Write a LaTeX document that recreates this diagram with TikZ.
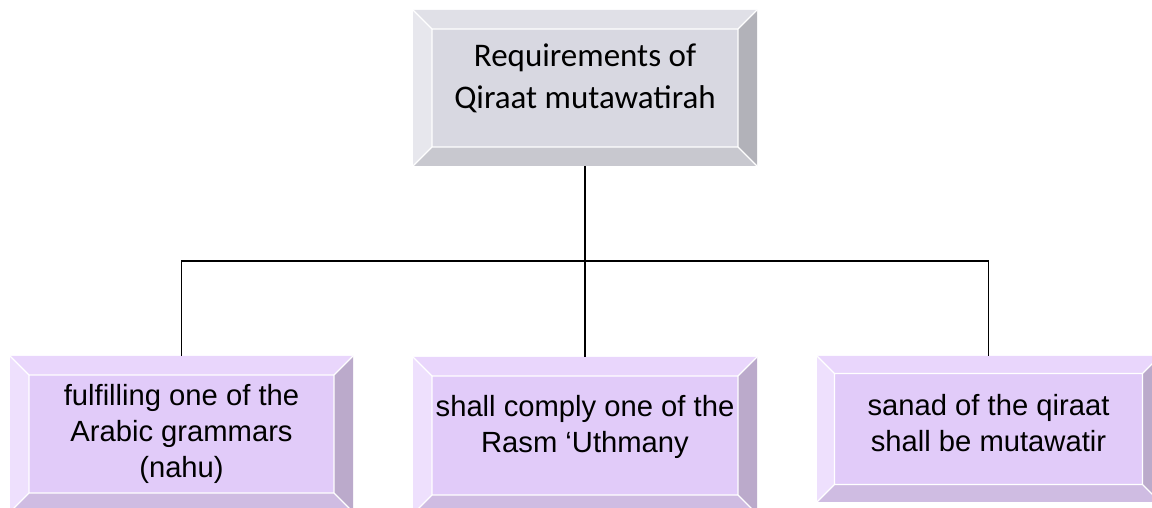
\documentclass[tikz,border=0pt]{standalone}
\usepackage{fontspec}
\setmainfont{Liberation Sans}
\newfontfamily\carlito{Carlito}
\usetikzlibrary{calc}
\definecolor{gface}{HTML}{D8D8E1}
\definecolor{gtop}{HTML}{E0E0E7}
\definecolor{gleft}{HTML}{E7E7ED}
\definecolor{gright}{HTML}{B2B2B9}
\definecolor{gbot}{HTML}{C8C8CF}
\definecolor{pface}{HTML}{E1CBF9}
\definecolor{ptop}{HTML}{E9D6FC}
\definecolor{pleft}{HTML}{EEE0FD}
\definecolor{pright}{HTML}{BBAACB}
\definecolor{pbot}{HTML}{CFBCE2}
\newcommand\drawbevel[7]{%
  \coordinate (NW) at (#1.north west);
  \coordinate (NE) at (#1.north east);
  \coordinate (SW) at (#1.south west);
  \coordinate (SE) at (#1.south east);
  \coordinate (nw) at ($(NW)+(#2,-#2)$);
  \coordinate (ne) at ($(NE)+(-#2,-#2)$);
  \coordinate (sw) at ($(SW)+(#2,#2)$);
  \coordinate (se) at ($(SE)+(-#2,#2)$);
  \fill[#4] (NW)--(NE)--(ne)--(nw)--cycle;
  \fill[#5] (NW)--(nw)--(sw)--(SW)--cycle;
  \fill[#6] (NE)--(SE)--(se)--(ne)--cycle;
  \fill[#7] (SW)--(sw)--(se)--(SE)--cycle;
  \fill[#3] (nw) rectangle (se);
  \draw[white, line width=1.2pt] (NW)--(nw) (NE)--(ne) (SW)--(sw) (SE)--(se) (nw) rectangle (se);
}
\tikzset{
  boxshape/.style={inner sep=0pt, outer sep=0pt},
  toptext/.style={font=\carlito\fontsize{33}{42}\selectfont, align=center, inner sep=0pt},
  lowtext/.style={font=\fontsize{29.2}{36}\selectfont, align=center, inner sep=0pt},
  conn/.style={draw=black, line width=1.5pt},
}
\begin{document}
\begin{tikzpicture}[x=1pt,y=1pt]
\useasboundingbox (0,0) rectangle (1152,508);
\clip (0,0) rectangle (1152,508);
\node[boxshape, minimum width=344pt, minimum height=156pt] (top) at (585,420) {};
\node[boxshape, minimum width=343pt, minimum height=156pt] (b1) at (181.5,74) {};
\node[boxshape, minimum width=344pt, minimum height=157pt] (b2) at (585,72.5) {};
\node[boxshape, minimum width=343pt, minimum height=146pt] (b3) at (988.5,79) {};
\drawbevel{top}{19}{gface}{gtop}{gleft}{gright}{gbot}
\drawbevel{b1}{19}{pface}{ptop}{pleft}{pright}{pbot}
\drawbevel{b2}{19}{pface}{ptop}{pleft}{pright}{pbot}
\drawbevel{b3}{17.5}{pface}{ptop}{pleft}{pright}{pbot}
\node[toptext] (t0) at (585,430) {Requirements of\\Qiraat mutawatirah};
\node[lowtext] (t1) at (181.5,74) {fulfilling one of the\\Arabic grammars\\(nahu)};
\node[lowtext] (t2) at (585,81) {shall comply one of the\\Rasm ‘Uthmany};
\node[lowtext] (t3) at (988.5,85) {sanad of the qiraat\\shall be mutawatir};
\coordinate (j) at (585,247);
\draw[conn] (top.south) -- (j);
\draw[conn] (j) -| (b1.north);
\draw[conn] (j) -| (b3.north);
\draw[conn] (j) -- (b2.north);
\end{tikzpicture}
\end{document}
